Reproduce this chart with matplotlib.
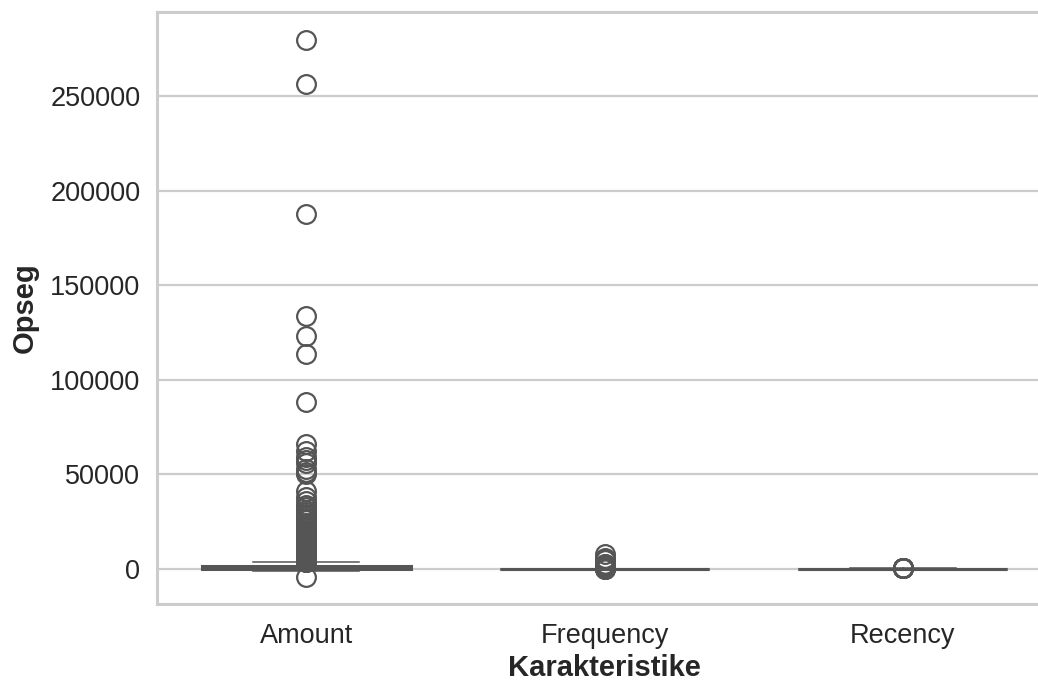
import matplotlib
matplotlib.use("Agg")
import matplotlib.pyplot as plt

# ---- data ----
categories = ["Amount", "Frequency", "Recency"]

# box statistics: q1, median, q3, lower whisker, upper whisker
q1 = [293.4, 17, 16]
med = [648.1, 42, 50]
q3 = [1611.7, 102, 143]
whislo = [-1192.2, 1, 0]
whishi = [3580.0, 229, 333]

amount_fliers = [279490, 256440, 187480, 133700, 123100, 113600, 88130,
                 65900, 62650, 59420, 57390, 56250, 53000, 51500, 50490,
                 41000, 38000, 36000, 33700, 33000, 31300, 30000, 28900,
                 27800, 26900, 25700, 24500, 23100, 22000, 21500, 20300,
                 19500, 18800, 17800, 16900, 16000, 15500, 14800, 14000,
                 13400, 12900, 12400, 11800, 11200, 10700, 10200, 9800,
                 9400, 9000, 8600, 8300, 8000, 7700, 7400, 7100, 6800,
                 6500, 6300, 6100, 5900, 5700, 5500, 5300, 5100, 4900,
                 4700, 4500, 4300, 4100, 3950, 3800, 3700, -4288]
frequency_fliers = [7983, 5903, 5128, 4642, 2782, 2491, 2076, 1818, 1677,
                    1640, 1428, 1408, 1357, 1284, 1229, 1200, 1100, 1000,
                    900, 800, 700, 600, 500, 450, 400, 350, 300, 260, 235]
recency_fliers = [336, 340, 350, 358, 365, 368, 371, 372, 373]
fliers = [amount_fliers, frequency_fliers, recency_fliers]

y_ticks = [0, 50000, 100000, 150000, 200000, 250000]
x_label = "Karakteristike"
y_label = "Opseg"

# ---- figure ----
W, H = 1038, 682
fig = plt.figure(figsize=(W / 100, H / 100), dpi=100)
ax = fig.add_axes([157 / W, 1 - 604 / H, (1052 - 157) / W, (604 - 12) / H])

line_c = "#555555"
grid_c = "#cccccc"

stats = []
for i, name in enumerate(categories):
    stats.append(dict(label=name, q1=q1[i], med=med[i], q3=q3[i],
                      whislo=whislo[i], whishi=whishi[i], fliers=fliers[i]))

ax.bxp(stats, positions=range(len(categories)), widths=0.7,
       capwidths=0.355, patch_artist=True, showfliers=True,
       boxprops=dict(facecolor=line_c, edgecolor=line_c, linewidth=2.2),
       medianprops=dict(color=line_c, linewidth=2.2),
       whiskerprops=dict(color=line_c, linewidth=1.1),
       capprops=dict(color=line_c, linewidth=1.1),
       flierprops=dict(marker="o", markersize=13.5, markerfacecolor="none",
                       markeredgecolor=line_c, markeredgewidth=1.6),
       zorder=3)

ax.set_xlim(-0.5, 2.5)
ax.set_ylim(-18450, 294350)
ax.set_yticks(y_ticks)
ax.set_yticklabels([str(v) for v in y_ticks])
ax.set_xticks(range(len(categories)))
ax.set_xticklabels(categories)

font = "Liberation Sans"
for lab in ax.get_xticklabels() + ax.get_yticklabels():
    lab.set_fontfamily(font)
    lab.set_fontsize(19.5)
    lab.set_color("#262626")
ax.tick_params(axis="y", length=0, pad=12)
ax.tick_params(axis="x", length=0, pad=14)

ax.set_xlabel(x_label, fontsize=21, fontweight="bold", family=font,
              color="#262626", labelpad=3)
ax.set_ylabel(y_label, fontsize=21, fontweight="bold", family=font,
              color="#262626", labelpad=8)

ax.set_axisbelow(True)
ax.yaxis.grid(True, color=grid_c, linewidth=1.6)
ax.xaxis.grid(False)
for s in ax.spines.values():
    s.set_color(grid_c)
    s.set_linewidth(2.2)

fig.savefig("out.png", dpi=100)
